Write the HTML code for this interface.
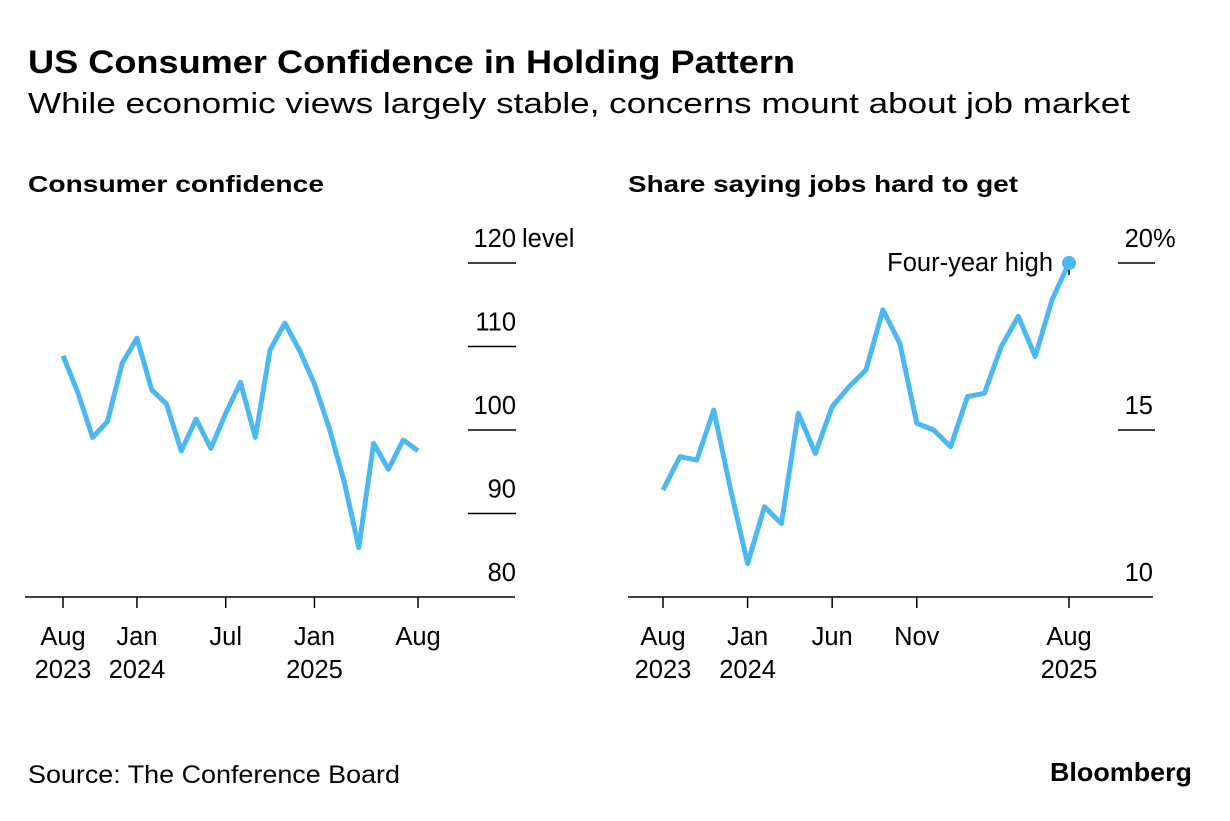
<!DOCTYPE html>
<html><head><meta charset="utf-8"><style>
body{margin:0;background:#fff;font-family:"Liberation Sans",sans-serif;}
svg text{font-family:"Liberation Sans",sans-serif;fill:#000;}
</style></head><body>
<svg width="1230" height="816" viewBox="0 0 1230 816">
<text x="28" y="73" font-size="32" font-weight="bold" textLength="767" lengthAdjust="spacingAndGlyphs">US Consumer Confidence in Holding Pattern</text>
<text x="28" y="113" font-size="29" textLength="1102" lengthAdjust="spacingAndGlyphs">While economic views largely stable, concerns mount about job market</text>
<text x="28" y="192" font-size="23" font-weight="bold" textLength="296" lengthAdjust="spacingAndGlyphs">Consumer confidence</text>
<text x="628" y="192" font-size="23" font-weight="bold" textLength="390" lengthAdjust="spacingAndGlyphs">Share saying jobs hard to get</text>
<g id="left"></g><g id="right"></g>
<text x="28" y="783" font-size="25" textLength="372" lengthAdjust="spacingAndGlyphs">Source: The Conference Board</text>
<text x="1050" y="781" font-size="26" font-weight="bold" textLength="142" lengthAdjust="spacingAndGlyphs">Bloomberg</text>
</svg>
<script>
const leftValues=[108.9,104.5,99.1,101.0,108.0,111.0,104.8,103.1,97.5,101.3,97.8,102.0,105.7,99.1,109.6,112.8,109.5,105.5,100.2,93.9,85.9,98.4,95.3,98.8,97.5];
const leftTicks=[120,110,100,90,80];
const rightValues=[13.2,14.2,14.1,15.6,13.2,11.0,12.7,12.2,15.5,14.3,15.7,16.3,16.8,18.6,17.6,15.2,15.0,14.5,16.0,16.1,17.5,18.4,17.2,18.9,20.0];
const rightTicks=[20,15,10];
const leftXLabels=[[0,"Aug","2023"],[5,"Jan","2024"],[11,"Jul",""],[17,"Jan","2025"],[24,"Aug",""]];
const rightXLabels=[[0,"Aug","2023"],[5,"Jan","2024"],[10,"Jun",""],[15,"Nov",""],[24,"Aug","2025"]];
const NS="http://www.w3.org/2000/svg";
function mk(p,t,a){const e=document.createElementNS(NS,t);for(const k in a)e.setAttribute(k,a[k]);p.appendChild(e);return e;}
function panel(g,vals,ticks,xl,cfg){
  const xs=i=>cfg.x0+i*(cfg.x1-cfg.x0)/24;
  const ys=v=>cfg.yBase-(v-cfg.vMin)*cfg.pxPer;
  ticks.forEach((t,i)=>{
    const y=ys(t);
    if(t!==cfg.vMin){const l=mk(g,"line",{x1:cfg.tx1,x2:cfg.tx2,y1:y,y2:y,stroke:"#000","stroke-width":1.5});
    
    }
    const tx=mk(g,"text",{x:cfg.lx,y:y-16,"font-size":25.5,"text-anchor":"end"});
    tx.textContent=t;
    
    
    if(i===0){const u=mk(g,"text",{x:cfg.lx+(cfg.unitGap||0),y:y-16,"font-size":25.5});u.textContent=cfg.unit;
    
    }
  });
  const ax=mk(g,"line",{x1:cfg.ax0,x2:cfg.ax1,y1:cfg.yBase,y2:cfg.yBase,stroke:"#000","stroke-width":1.5});
  
  
  xl.forEach(([i,a,b])=>{
    const x=xs(i);
    const tk=mk(g,"line",{x1:x,x2:x,y1:cfg.yBase,y2:cfg.yBase+11,stroke:"#000","stroke-width":1.5});
    
    
    const t=mk(g,"text",{x:x,y:645,"font-size":25.5,"text-anchor":"middle"});t.textContent=a;
    
    
    if(b){const t2=mk(g,"text",{x:x,y:678,"font-size":25.5,"text-anchor":"middle"});t2.textContent=b;
    
    }
  });
  const d=vals.map((v,i)=>(i?"L":"M")+xs(i).toFixed(1)+","+ys(v).toFixed(1)).join("");
  const p=mk(g,"path",{d:d,fill:"none",stroke:"#4bb8f2","stroke-width":5,"stroke-linejoin":"round"});
  
  
  return {xs,ys};
}
const L=panel(document.getElementById("left"),leftValues,leftTicks,leftXLabels,{x0:63,x1:418,yBase:597,vMin:80,pxPer:8.35,tx1:468,tx2:516,lx:516,unit:" level",unitGap:6,ax0:25,ax1:515});
const R=panel(document.getElementById("right"),rightValues,rightTicks,rightXLabels,{x0:663,x1:1069,yBase:597,vMin:10,pxPer:33.4,tx1:1118,tx2:1155,lx:1153,unit:"%",unitGap:0,ax0:628,ax1:1153});
const g=document.getElementById("right");
const last=rightValues.length-1;
const tl=mk(g,"line",{x1:R.xs(last),x2:R.xs(last),y1:R.ys(rightValues[last]),y2:R.ys(rightValues[last])+12,stroke:"#000","stroke-width":1.5});


const c=mk(g,"circle",{cx:R.xs(last),cy:R.ys(rightValues[last]),r:7,fill:"#4bb8f2"});


const a=mk(g,"text",{x:R.xs(last)-16,y:R.ys(rightValues[last])+8,"font-size":25.5,"text-anchor":"end"});
a.textContent="Four-year high";


</script>
</body></html>
